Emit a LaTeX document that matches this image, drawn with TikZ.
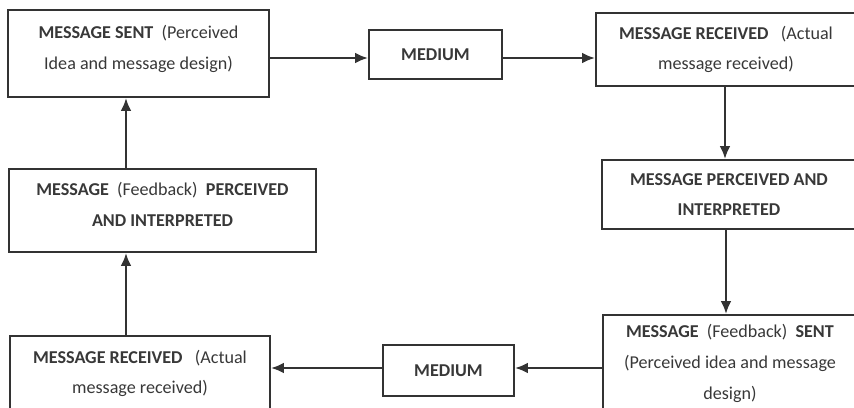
\documentclass[tikz,border=0pt]{standalone}
\usepackage{fontspec}
\setmainfont{Carlito}
\usetikzlibrary{arrows.meta}
\definecolor{linegray}{HTML}{333333}
\definecolor{textgray}{HTML}{383838}

\begin{document}
\begin{tikzpicture}[
        x=0.2mm, y=-0.2mm,
        box/.style={draw=linegray, line width=1.1pt, align=center, inner sep=0pt,
                text=textgray, font=\fontsize{10.3}{17.5}\selectfont},
        flow/.style={draw=linegray, line width=1.4pt, -{Latex[length=2.6mm, width=2.2mm]}}
    ]

    \useasboundingbox (0,0) rectangle (854,407);
    \clip (0,0) rectangle (854,407);

    \node[box, minimum width=52.2mm, minimum height=17.4mm] (sent) at (138.5,53.5)
        {\textbf{MESSAGE SENT}\ \ (Perceived\\ Idea and message design)\\[-10.5pt]\mbox{}};
    \node[box, minimum width=26.6mm, minimum height=9.8mm] (medium) at (435.5,54.5)
        {\textbf{MEDIUM}};
    \node[box, minimum width=52mm, minimum height=14.6mm] (received) at (726,49.5)
        {\textbf{MESSAGE RECEIVED}\ \ \ (Actual\\ message received)};
    \node[box, minimum width=50.8mm, minimum height=13.8mm] (perceived) at (729,194.5)
        {\textbf{MESSAGE PERCEIVED AND}\\ \textbf{INTERPRETED}};
    \node[box, minimum width=50.8mm, minimum height=19.4mm] (feedsent) at (730,363.5)
        {\textbf{MESSAGE}\ \ (Feedback)\ \ \textbf{SENT}\\ (Perceived idea and message\\ design)};
    \node[box, minimum width=26.2mm, minimum height=10.2mm] (feedmedium) at (448.5,370.5)
        {\textbf{MEDIUM}};
    \node[box, minimum width=52mm, minimum height=15.6mm] (feedreceived) at (140,375)
        {\textbf{MESSAGE RECEIVED}\ \ \ (Actual\\ message received)\\[-14pt]\mbox{}};
    \node[box, minimum width=61.4mm, minimum height=16.6mm] (feedperceived) at (162.5,210.5)
        {\textbf{MESSAGE}\ \ (Feedback)\ \ \textbf{PERCEIVED}\\ \textbf{AND INTERPRETED}\\[-10.5pt]\mbox{}};

    \coordinate (upline) at (126,0);

    \draw[flow] (sent.east |- 0,58) -- (medium.west |- 0,58);
    \draw[flow] (medium.east |- 0,58) -- (received.west |- 0,58);
    \draw[flow] (received.south -| 725,0) -- (perceived.north -| 725,0);
    \draw[flow] (perceived.south -| 726,0) -- (feedsent.north -| 726,0);
    \draw[flow] (feedsent.west |- 0,368) -- (feedmedium.east |- 0,368);
    \draw[flow] (feedmedium.west |- 0,368) -- (feedreceived.east |- 0,368);
    \draw[flow] (feedreceived.north -| upline) -- (feedperceived.south -| upline);
    \draw[flow] (feedperceived.north -| upline) -- (sent.south -| upline);

\end{tikzpicture}
\end{document}
